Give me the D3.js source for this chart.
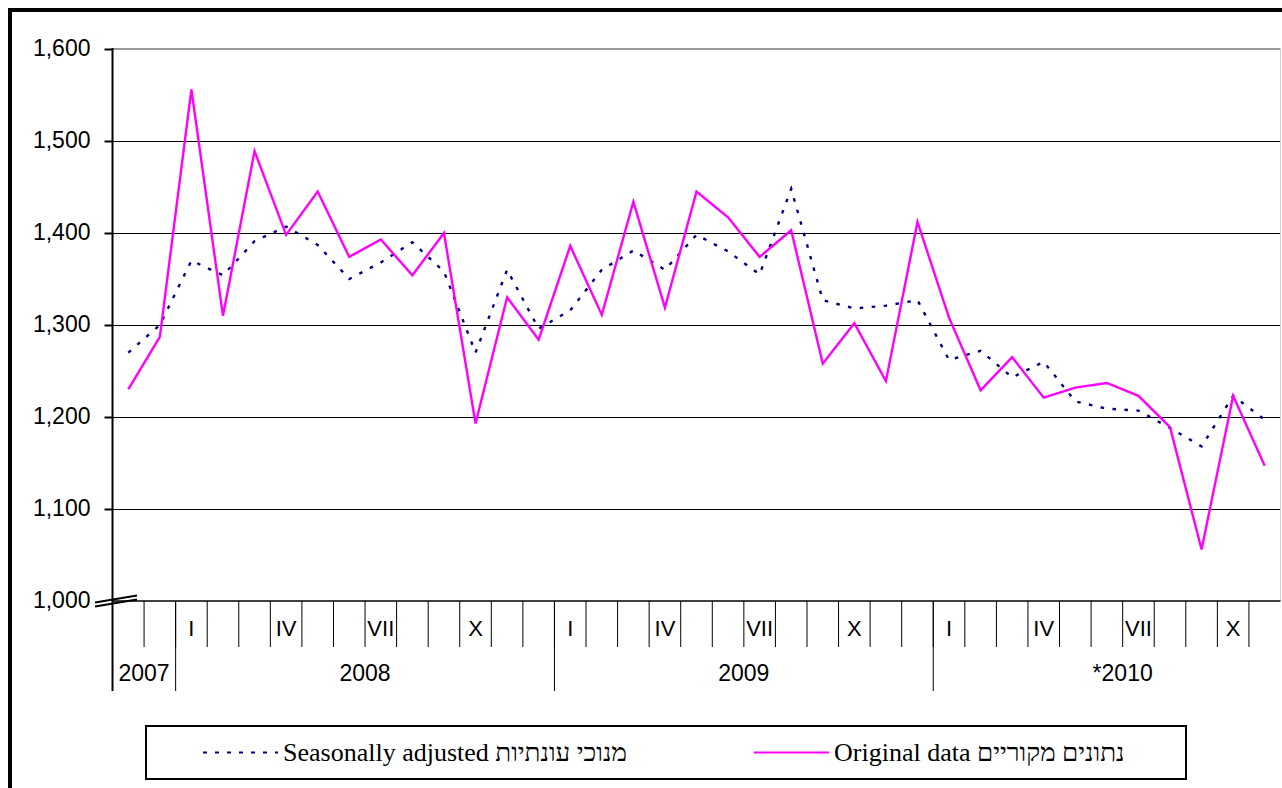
<!DOCTYPE html>
<html>
<head>
<meta charset="utf-8">
<script src="https://cdnjs.cloudflare.com/ajax/libs/d3/7.8.5/d3.min.js"></script>
<style>
  body { margin: 0; background: #fff; }
  svg text { font-family: "Liberation Sans", Arial, sans-serif; }
  .legend text { font-family: "Liberation Serif", "Times New Roman", serif; }
</style>
</head>
<body>
<div id="chart"></div>
<script>

// monthly values, Nov 2007 - Nov 2010
var monthLabels = ["", "",
    "I", "", "", "IV", "", "", "VII", "", "", "X", "", "",
    "I", "", "", "IV", "", "", "VII", "", "", "X", "", "",
    "I", "", "", "IV", "", "", "VII", "", "", "X", ""];

var yearLabels = ["2007", "2008", "2009", "*2010"];
var yearMonths = [2, 12, 12, 12];   // months per year block (2010 block runs off the right edge)

var original = [1230, 1287, 1556, 1310, 1489, 1398, 1445, 1374, 1393, 1354, 1400, 1193,
    1330, 1284, 1386, 1311, 1434, 1319, 1445, 1417, 1374, 1403, 1258, 1302,
    1239, 1412, 1308, 1229, 1265, 1221, 1232, 1237, 1223, 1189, 1056, 1223, 1147];

var seasonal = [1270, 1300, 1370, 1354, 1391, 1407, 1387, 1350, 1368, 1390, 1358, 1270,
    1360, 1296, 1316, 1360, 1381, 1360, 1398, 1380, 1355, 1448, 1327, 1318,
    1321, 1327, 1262, 1272, 1243, 1260, 1217, 1209, 1207, 1188, 1168, 1223, 1197];

var yTicks = [1000, 1100, 1200, 1300, 1400, 1500, 1600];

var legendItems = ["Seasonally adjusted מנוכי עונתיות", "Original data נתונים מקוריים"];


var svgWidth = 1282;
var svgHeight = 788;

var plot = { left: 112.5, right: 1280.5, top: 49, bottom: 601 };

var svg = d3.select("#chart")
    .append("svg")
    .attr("width", svgWidth)
    .attr("height", svgHeight);

// outer frame
svg.append("rect")
    .attr("x", 10)
    .attr("y", 10)
    .attr("width", 1320)
    .attr("height", 820)
    .attr("fill", "#fff")
    .attr("stroke", "#000")
    .attr("stroke-width", 4);

var nMonths = original.length;

var x = d3.scaleLinear()
    .domain([0, nMonths])
    .range([plot.left, plot.right]);

var y = d3.scaleLinear()
    .domain([1000, 1600])
    .range([plot.bottom, plot.top]);

// gridlines
var grid = svg.append("g")
    .attr("transform", `translate(${plot.left}, 0)`)
    .call(d3.axisLeft(y)
        .tickValues(yTicks.filter(d => d > 1000 && d < 1600))
        .tickSize(-(plot.right - plot.left))
        .tickFormat(""));
grid.select(".domain").remove();
grid.selectAll("line").attr("stroke", "#000").attr("stroke-width", 1);

// plot border top / right
svg.append("line")
    .attr("x1", plot.left).attr("x2", plot.right)
    .attr("y1", y(1600)).attr("y2", y(1600))
    .attr("stroke", "#999").attr("stroke-width", 2);
svg.append("line")
    .attr("x1", plot.right).attr("x2", plot.right)
    .attr("y1", y(1600)).attr("y2", plot.bottom)
    .attr("stroke", "#d0d0d0").attr("stroke-width", 1);

// y axis
var yAxis = svg.append("g")
    .attr("transform", `translate(${plot.left}, 0)`)
    .call(d3.axisLeft(y)
        .tickValues(yTicks)
        .tickSize(8)
        .tickPadding(14)
        .tickFormat(d3.format(",")));
yAxis.select(".domain").remove();
yAxis.selectAll(".tick line").attr("stroke", "#000").attr("stroke-width", 2)
    .filter(d => d === 1000).remove();
yAxis.selectAll(".tick text")
    .attr("font-size", "23px")
    .attr("font-family", "Liberation Sans, Arial, sans-serif")
    .attr("fill", "#000")
    .attr("dy", "0.3em");

svg.append("line")
    .attr("x1", plot.left).attr("x2", plot.left)
    .attr("y1", plot.top - 1).attr("y2", plot.bottom + 90)
    .attr("stroke", "#000").attr("stroke-width", 2);

// x axis line
svg.append("line")
    .attr("x1", plot.left).attr("x2", plot.right)
    .attr("y1", plot.bottom).attr("y2", plot.bottom)
    .attr("stroke", "#000").attr("stroke-width", 1.5);

// axis break mark at 1,000
[[-1.5], [2.5]].forEach(function(o) {
    svg.append("line")
        .attr("x1", 95).attr("y1", plot.bottom + o[0] + 3)
        .attr("x2", 137).attr("y2", plot.bottom + o[0] - 4)
        .attr("stroke", "#000").attr("stroke-width", 1.8);
});

// month separators
var monthIdx = d3.range(1, nMonths);
svg.append("g").selectAll("line")
    .data(monthIdx)
    .enter().append("line")
    .attr("x1", d => x(d)).attr("x2", d => x(d))
    .attr("y1", plot.bottom).attr("y2", plot.bottom + 46)
    .attr("stroke", "#000").attr("stroke-width", 1);

svg.append("g").selectAll("text")
    .data(monthLabels)
    .enter().append("text")
    .attr("x", (d, i) => x(i + 0.5))
    .attr("y", plot.bottom + 35)
    .attr("text-anchor", "middle")
    .attr("font-size", "22px")
    .text(d => d);

// year blocks
var yearStart = [];
var acc = 0;
yearMonths.forEach(function(n) { yearStart.push(acc); acc += n; });

svg.append("g").selectAll("line")
    .data(yearStart.slice(1))
    .enter().append("line")
    .attr("x1", d => x(d)).attr("x2", d => x(d))
    .attr("y1", plot.bottom).attr("y2", plot.bottom + 90)
    .attr("stroke", "#000").attr("stroke-width", 1);

svg.append("g").selectAll("text")
    .data(yearLabels)
    .enter().append("text")
    .attr("x", (d, i) => x(yearStart[i] + yearMonths[i] / 2))
    .attr("y", plot.bottom + 80)
    .attr("text-anchor", "middle")
    .attr("font-size", "23px")
    .text(d => d);

// series
var line = d3.line()
    .x((d, i) => x(i + 0.5))
    .y(d => y(d));

svg.append("path")
    .datum(seasonal)
    .attr("d", line)
    .attr("fill", "none")
    .attr("stroke", "#000080")
    .attr("stroke-width", 2.4)
    .attr("stroke-dasharray", "3.5,8.5");

svg.append("path")
    .datum(original)
    .attr("d", line)
    .attr("fill", "none")
    .attr("stroke", "#ff00ff")
    .attr("stroke-width", 2.4);

// legend
var legend = svg.append("g").attr("class", "legend");

legend.append("rect")
    .attr("x", 146)
    .attr("y", 726)
    .attr("width", 1040)
    .attr("height", 53)
    .attr("fill", "#fff")
    .attr("stroke", "#000")
    .attr("stroke-width", 2);

var legendX = [203, 754];
var legendStyle = [
    { color: "#000080", dash: "4,8" },
    { color: "#ff00ff", dash: null }
];

legendItems.forEach(function(label, i) {
    legend.append("line")
        .attr("x1", legendX[i]).attr("x2", legendX[i] + 75)
        .attr("y1", 752.5).attr("y2", 752.5)
        .attr("stroke", legendStyle[i].color)
        .attr("stroke-width", 2)
        .attr("stroke-dasharray", legendStyle[i].dash);

    legend.append("text")
        .attr("x", legendX[i] + 80)
        .attr("y", 761)
        .attr("font-size", "26px")
        .attr("direction", "ltr")
        .attr("fill", "#000")
        .text(label);
});

</script>
</body>
</html>
